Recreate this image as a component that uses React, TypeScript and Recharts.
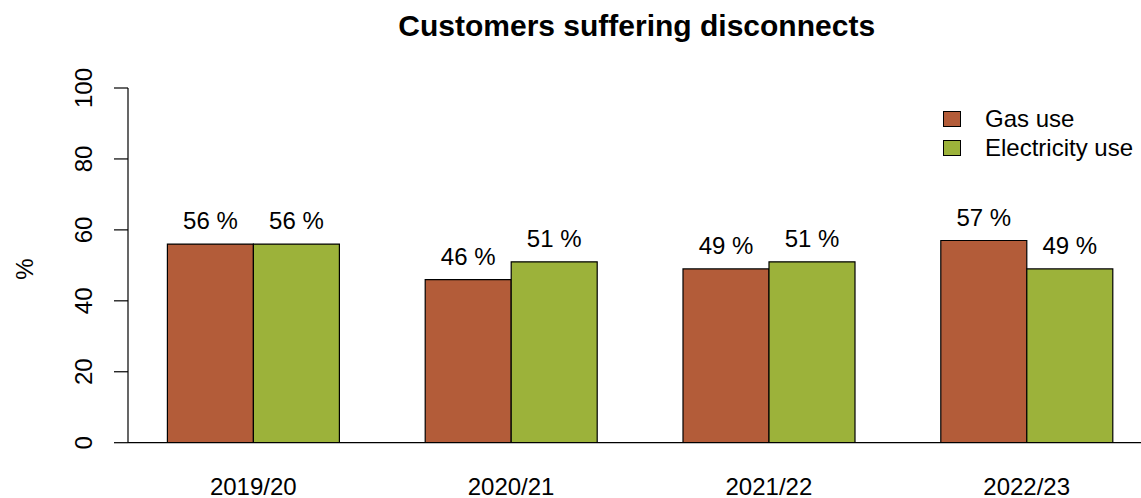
import React from 'react';
import { BarChart, Bar, XAxis, YAxis, LabelList } from 'recharts';

const categories = ['2019/20', '2020/21', '2021/22', '2022/23'];
const gasUse = [56, 46, 49, 57];
const electricityUse = [56, 51, 51, 49];
const yTicks = [0, 20, 40, 60, 80, 100];
const seriesNames = ['Gas use', 'Electricity use'];

const GAS_COLOR = '#B35C39';
const ELEC_COLOR = '#9CB23A';
const seriesColors = [GAS_COLOR, ELEC_COLOR];
const FONT = '"Liberation Sans", Arial, Helvetica, sans-serif';

const data = categories.map((c, i) => ({
  x: i + 1,
  label: c,
  gas: gasUse[i],
  elec: electricityUse[i],
}));

const W = 1160;
const H = 498;
const PLOT_LEFT = 128;
const PLOT_TOP = 88;
const PLOT_BOTTOM = 442.7;
const PLOT_RIGHT = 1145.4;

const XTick = (props: any) => {
  const { x, payload } = props;
  const lbl = categories[Math.round(payload.value) - 1] ?? '';
  return (
    <text x={x} y={PLOT_BOTTOM + 52.5} textAnchor="middle" fontFamily={FONT} fontSize={24} fill="#000">
      {lbl}
    </text>
  );
};

const YTick = (props: any) => {
  const { y, payload } = props;
  const bx = 92;
  return (
    <text
      x={bx}
      y={y}
      transform={`rotate(-90, ${bx}, ${y})`}
      textAnchor="middle"
      fontFamily={FONT}
      fontSize={24}
      fill="#000"
    >
      {payload.value}
    </text>
  );
};

const YLabel = () => (
  <text
    x={33}
    y={269}
    transform="rotate(-90, 33, 269)"
    textAnchor="middle"
    fontFamily={FONT}
    fontSize={24}
    fill="#000"
  >
    %
  </text>
);

const ValueLabel = (props: any) => {
  const { x, y, width, value } = props;
  return (
    <text x={x + width / 2} y={y - 15} textAnchor="middle" fontFamily={FONT} fontSize={24} fill="#000">
      {`${value} %`}
    </text>
  );
};

const unit = 257.8;
const domainMin = 1 - (253.3 - PLOT_LEFT) / unit;
const domainMax = 1 + (PLOT_RIGHT - 253.3) / unit;

export default function App() {
  return (
    <div style={{ position: 'absolute', left: 0, top: 0, width: 1141, height: 498, overflow: 'hidden', background: '#fff' }}>
      <div
        style={{
          position: 'absolute',
          left: 636.7 - 400,
          width: 800,
          top: 10.6,
          textAlign: 'center',
          fontFamily: FONT,
          fontWeight: 'bold',
          fontSize: 30,
          lineHeight: '30px',
          color: '#000',
          whiteSpace: 'nowrap',
        }}
      >
        Customers suffering disconnects
      </div>
      <div
        style={{
          position: 'absolute',
          left: 943,
          top: 103.6,
          fontFamily: FONT,
          fontSize: 24,
          lineHeight: '29.5px',
          color: '#000',
          zIndex: 2,
        }}
      >
        {seriesNames.map((n, i) => (
          <div key={n} style={{ display: 'flex', alignItems: 'center', height: 29.5 }}>
            <div
              style={{
                width: 16,
                height: 14,
                background: seriesColors[i],
                border: '1.2px solid #000',
                marginRight: 24,
                marginTop: 1,
              }}
            />
            <span style={{ whiteSpace: 'nowrap' }}>{n}</span>
          </div>
        ))}
      </div>
      <BarChart
        width={W}
        height={H}
        data={data}
        margin={{ top: PLOT_TOP, right: W - PLOT_RIGHT, bottom: 0, left: 0 }}
        barGap={0}
        barSize={86}
      >
        <XAxis
          xAxisId="bottom"
          dataKey="x"
          type="number"
          scale="linear"
          domain={[domainMin, domainMax]}
          allowDataOverflow
          ticks={[1, 2, 3, 4]}
          tick={<XTick />}
          tickLine={false}
          axisLine={{ stroke: '#000', strokeWidth: 1.2 }}
          height={H - PLOT_BOTTOM}
          interval={0}
        />
        <XAxis
          xAxisId="top"
          orientation="top"
          dataKey="x"
          type="number"
          scale="linear"
          domain={[domainMin, domainMax]}
          allowDataOverflow
          tick={false}
          tickLine={false}
          axisLine={{ stroke: '#000', strokeWidth: 1.2 }}
          height={0}
        />
        <YAxis
          type="number"
          domain={[0, 100]}
          ticks={yTicks}
          allowDataOverflow
          width={PLOT_LEFT}
          tick={<YTick />}
          tickSize={14}
          tickLine={{ stroke: '#000', strokeWidth: 1.2 }}
          axisLine={{ stroke: '#000', strokeWidth: 1.2 }}
          interval={0}
          label={<YLabel />}
        />
        <Bar
          xAxisId="bottom"
          dataKey="gas"
          name={seriesNames[0]}
          fill={GAS_COLOR}
          stroke="#000"
          strokeWidth={1.2}
          isAnimationActive={false}
        >
          <LabelList dataKey="gas" content={<ValueLabel />} />
        </Bar>
        <Bar
          xAxisId="bottom"
          dataKey="elec"
          name={seriesNames[1]}
          fill={ELEC_COLOR}
          stroke="#000"
          strokeWidth={1.2}
          isAnimationActive={false}
        >
          <LabelList dataKey="elec" content={<ValueLabel />} />
        </Bar>
      </BarChart>
    </div>
  );
}
